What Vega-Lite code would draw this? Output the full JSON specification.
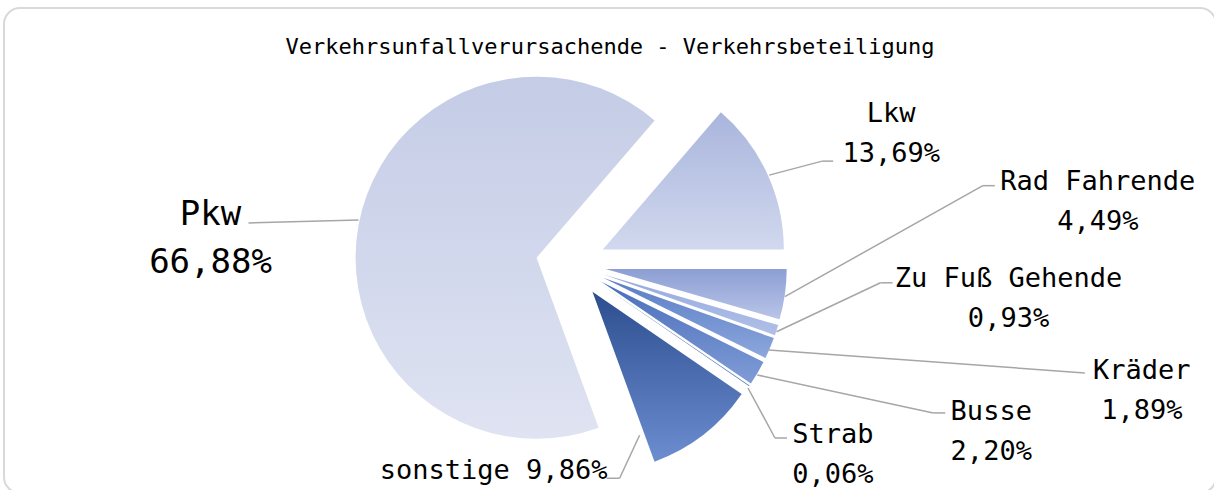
{
  "$schema": "https://vega.github.io/schema/vega-lite/v6.json",
  "autosize": {"type": "fit", "contains": "padding"},
  "width": 1214,
  "height": 490,
  "padding": {"left": 4, "top": 8, "right": -2, "bottom": -3},
  "background": "white",
  "config": {
    "view": {"stroke": "#d9d9d9", "strokeWidth": 2, "cornerRadius": 16},
    "text": {"font": "DejaVu Sans Mono", "fontSize": 27, "lineHeight": 40, "align": "center", "baseline": "middle", "color": "#000000"},
    "rule": {"color": "#a6a6a6", "strokeWidth": 1.5},
    "arc": {"outerRadius": 181}
  },
  "title": {
    "text": "Verkehrsunfallverursachende - Verkehrsbeteiligung",
    "font": "DejaVu Sans Mono",
    "fontSize": 22,
    "fontWeight": "normal",
    "color": "#000000",
    "anchor": "middle",
    "frame": "group",
    "baseline": "alphabetic",
    "offset": -68
  },
  "data": {
    "values": [
      {"cat": "Lkw", "value": 13.69},
      {"cat": "Rad Fahrende", "value": 4.49},
      {"cat": "Zu Fuß Gehende", "value": 0.93},
      {"cat": "Kräder", "value": 1.89},
      {"cat": "Busse", "value": 2.20},
      {"cat": "Strab", "value": 0.06},
      {"cat": "sonstige", "value": 9.86},
      {"cat": "Pkw", "value": 66.88}
    ]
  },
  "transform": [
    {"window": [{"op": "sum", "field": "value", "as": "cum"}], "frame": [null, 0]},
    {"calculate": "datum.cum - datum.value", "as": "start"},
    {"calculate": "0.7107 + 2 * PI * (datum.start + datum.value / 2) / 100", "as": "mid"},
    {"calculate": "35 * sin(datum.mid)", "as": "cx"},
    {"calculate": "35 * cos(datum.mid)", "as": "cy"},
    {"calculate": "218 * sin(datum.mid)", "as": "ax"},
    {"calculate": "218 * cos(datum.mid)", "as": "ay"},
    {"calculate": "replace(format(datum.value, '.2f'), '.', ',') + '%'", "as": "pct"},
    {"calculate": "[datum.cat, datum.pct]", "as": "lines"},
    {"calculate": "datum.cat + ' ' + datum.pct", "as": "oneline"}
  ],
  "encoding": {
    "x": {"field": "ax", "type": "quantitative", "scale": {"domain": [-567, 645], "nice": false, "zero": false}, "axis": null},
    "y": {"field": "ay", "type": "quantitative", "scale": {"domain": [-229, 256], "nice": false, "zero": false}, "axis": null}
  },
  "layer": [
    {
      "transform": [{"filter": "datum.cat == 'Lkw'"}],
      "layer": [
        {"mark": {"type": "arc", "fill": {"gradient": "linear", "x1": 0, "y1": 0, "x2": 0, "y2": 1, "stops": [{"offset": 0, "color": "#a9b5dc"}, {"offset": 1, "color": "#d1d8ee"}]}},
         "encoding": {"theta": {"field": "start", "type": "quantitative", "stack": null, "scale": {"domain": [0, 100], "range": [0.7107, 6.9939]}}, "theta2": {"field": "cum"}, "x": {"field": "cx", "type": "quantitative"}, "y": {"field": "cy", "type": "quantitative"}, "tooltip": [{"field": "cat"}, {"field": "pct"}]}},
        {"mark": {"type": "rule", "xOffset": 0, "yOffset": 2, "x2Offset": 53, "y2Offset": -12}, "encoding": {"x2": {"field": "ax"}, "y2": {"field": "ay"}}},
        {"mark": {"type": "rule", "xOffset": 53, "yOffset": -12, "x2Offset": 64, "y2Offset": -12}, "encoding": {"x2": {"field": "ax"}, "y2": {"field": "ay"}}},
        {"mark": {"type": "text", "dx": 122, "dy": -59}, "encoding": {"text": {"field": "lines"}}}
      ]
    },
    {
      "transform": [{"filter": "datum.cat == 'Rad Fahrende'"}],
      "layer": [
        {"mark": {"type": "arc", "fill": {"gradient": "linear", "x1": 0, "y1": 0, "x2": 0, "y2": 1, "stops": [{"offset": 0, "color": "#8c9ed3"}, {"offset": 1, "color": "#b9c5e8"}]}},
         "encoding": {"theta": {"field": "start", "type": "quantitative", "stack": null}, "theta2": {"field": "cum"}, "x": {"field": "cx", "type": "quantitative"}, "y": {"field": "cy", "type": "quantitative"}, "tooltip": [{"field": "cat"}, {"field": "pct"}]}},
        {"mark": {"type": "rule", "xOffset": -2, "yOffset": 2, "x2Offset": 196, "y2Offset": -109}, "encoding": {"x2": {"field": "ax"}, "y2": {"field": "ay"}}},
        {"mark": {"type": "rule", "xOffset": 196, "yOffset": -109, "x2Offset": 208, "y2Offset": -109}, "encoding": {"x2": {"field": "ax"}, "y2": {"field": "ay"}}},
        {"mark": {"type": "text", "dx": 311, "dy": -113}, "encoding": {"text": {"field": "lines"}}}
      ]
    },
    {
      "transform": [{"filter": "datum.cat == 'Zu Fuß Gehende'"}],
      "layer": [
        {"mark": {"type": "arc", "fill": {"gradient": "linear", "x1": 0, "y1": 0, "x2": 0, "y2": 1, "stops": [{"offset": 0, "color": "#96aadf"}, {"offset": 1, "color": "#afbfe7"}]}},
         "encoding": {"theta": {"field": "start", "type": "quantitative", "stack": null}, "theta2": {"field": "cum"}, "x": {"field": "cx", "type": "quantitative"}, "y": {"field": "cy", "type": "quantitative"}, "tooltip": [{"field": "cat"}, {"field": "pct"}]}},
        {"mark": {"type": "rule", "xOffset": -2, "yOffset": 1, "x2Offset": 102, "y2Offset": -48}, "encoding": {"x2": {"field": "ax"}, "y2": {"field": "ay"}}},
        {"mark": {"type": "rule", "xOffset": 102, "yOffset": -48, "x2Offset": 114, "y2Offset": -48}, "encoding": {"x2": {"field": "ax"}, "y2": {"field": "ay"}}},
        {"mark": {"type": "text", "dx": 230, "dy": -52}, "encoding": {"text": {"field": "lines"}}}
      ]
    },
    {
      "transform": [{"filter": "datum.cat == 'Kräder'"}],
      "layer": [
        {"mark": {"type": "arc", "fill": {"gradient": "linear", "x1": 0, "y1": 0, "x2": 0, "y2": 1, "stops": [{"offset": 0, "color": "#5a7dc6"}, {"offset": 1, "color": "#8ca7dc"}]}},
         "encoding": {"theta": {"field": "start", "type": "quantitative", "stack": null}, "theta2": {"field": "cum"}, "x": {"field": "cx", "type": "quantitative"}, "y": {"field": "cy", "type": "quantitative"}, "tooltip": [{"field": "cat"}, {"field": "pct"}]}},
        {"mark": {"type": "rule", "xOffset": -3, "yOffset": 1, "x2Offset": 313, "y2Offset": 24}, "encoding": {"x2": {"field": "ax"}, "y2": {"field": "ay"}}},
        {"mark": {"type": "text", "dx": 370, "dy": 22}, "encoding": {"text": {"field": "lines"}}}
      ]
    },
    {
      "transform": [{"filter": "datum.cat == 'Busse'"}],
      "layer": [
        {"mark": {"type": "arc", "fill": {"gradient": "linear", "x1": 0, "y1": 0, "x2": 0, "y2": 1, "stops": [{"offset": 0, "color": "#4a6eba"}, {"offset": 1, "color": "#7f9cd6"}]}},
         "encoding": {"theta": {"field": "start", "type": "quantitative", "stack": null}, "theta2": {"field": "cum"}, "x": {"field": "cx", "type": "quantitative"}, "y": {"field": "cy", "type": "quantitative"}, "tooltip": [{"field": "cat"}, {"field": "pct"}]}},
        {"mark": {"type": "rule", "xOffset": -2, "yOffset": 1, "x2Offset": 174, "y2Offset": 39}, "encoding": {"x2": {"field": "ax"}, "y2": {"field": "ay"}}},
        {"mark": {"type": "rule", "xOffset": 174, "yOffset": 39, "x2Offset": 186, "y2Offset": 39}, "encoding": {"x2": {"field": "ax"}, "y2": {"field": "ay"}}},
        {"mark": {"type": "text", "dx": 232, "dy": 38}, "encoding": {"text": {"field": "lines"}}}
      ]
    },
    {
      "transform": [{"filter": "datum.cat == 'Strab'"}],
      "layer": [
        {"mark": {"type": "arc", "fill": {"gradient": "linear", "x1": 0, "y1": 0, "x2": 0, "y2": 1, "stops": [{"offset": 0, "color": "#3d5fa5"}, {"offset": 1, "color": "#5c7ec2"}]}},
         "encoding": {"theta": {"field": "start", "type": "quantitative", "stack": null}, "theta2": {"field": "cum"}, "x": {"field": "cx", "type": "quantitative"}, "y": {"field": "cy", "type": "quantitative"}, "tooltip": [{"field": "cat"}, {"field": "pct"}]}},
        {"mark": {"type": "rule", "xOffset": -3, "yOffset": 1, "x2Offset": 24, "y2Offset": 51}, "encoding": {"x2": {"field": "ax"}, "y2": {"field": "ay"}}},
        {"mark": {"type": "rule", "xOffset": 24, "yOffset": 51, "x2Offset": 36, "y2Offset": 51}, "encoding": {"x2": {"field": "ax"}, "y2": {"field": "ay"}}},
        {"mark": {"type": "text", "dx": 82, "dy": 48}, "encoding": {"text": {"field": "lines"}}}
      ]
    },
    {
      "transform": [{"filter": "datum.cat == 'sonstige'"}],
      "layer": [
        {"mark": {"type": "arc", "fill": {"gradient": "linear", "x1": 0, "y1": 0, "x2": 0, "y2": 1, "stops": [{"offset": 0, "color": "#2c4e8f"}, {"offset": 1, "color": "#6c8ed1"}]}},
         "encoding": {"theta": {"field": "start", "type": "quantitative", "stack": null}, "theta2": {"field": "cum"}, "x": {"field": "cx", "type": "quantitative"}, "y": {"field": "cy", "type": "quantitative"}, "tooltip": [{"field": "cat"}, {"field": "pct"}]}},
        {"mark": {"type": "rule", "xOffset": -65, "yOffset": -1, "x2Offset": -85, "y2Offset": 42}, "encoding": {"x2": {"field": "ax"}, "y2": {"field": "ay"}}},
        {"mark": {"type": "rule", "xOffset": -85, "yOffset": 42, "x2Offset": -98, "y2Offset": 42}, "encoding": {"x2": {"field": "ax"}, "y2": {"field": "ay"}}},
        {"mark": {"type": "text", "dx": -211, "dy": 35}, "encoding": {"text": {"field": "oneline"}}}
      ]
    },
    {
      "transform": [{"filter": "datum.cat == 'Pkw'"}],
      "layer": [
        {"mark": {"type": "arc", "fill": {"gradient": "linear", "x1": 0, "y1": 0, "x2": 0, "y2": 1, "stops": [{"offset": 0, "color": "#c4cce6"}, {"offset": 1, "color": "#dfe3f2"}]}},
         "encoding": {"theta": {"field": "start", "type": "quantitative", "stack": null}, "theta2": {"field": "cum"}, "x": {"field": "cx", "type": "quantitative"}, "y": {"field": "cy", "type": "quantitative"}, "tooltip": [{"field": "cat"}, {"field": "pct"}]}},
        {"mark": {"type": "rule", "xOffset": 2, "yOffset": -5, "x2Offset": -108, "y2Offset": -2}, "encoding": {"x2": {"field": "ax"}, "y2": {"field": "ay"}}},
        {"mark": {"type": "text", "dx": -146, "dy": -10, "fontSize": 34, "lineHeight": 48}, "encoding": {"text": {"field": "lines"}}}
      ]
    }
  ]
}
